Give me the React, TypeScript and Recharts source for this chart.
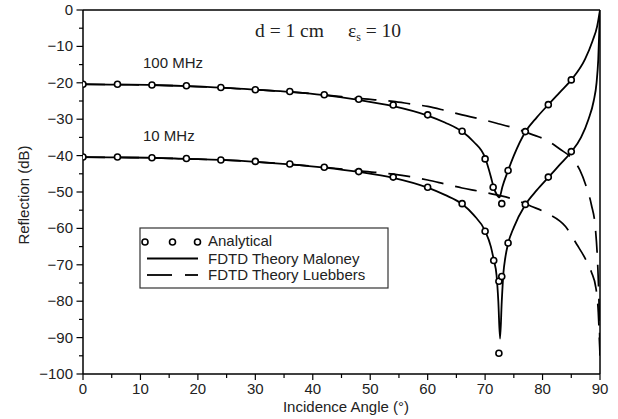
import React from 'react';
import { ComposedChart, Line, Scatter, XAxis, YAxis, ReferenceLine } from 'recharts';

// analytical points (circles)
const analyticalAngles100 = [0, 6, 12, 18, 24, 30, 36, 42, 48, 54, 60, 66, 70, 71.4, 72.9, 74, 77, 81, 85];
const analytical100 = [-20.4, -20.4, -20.6, -20.8, -21.3, -21.9, -22.4, -23.3, -24.5, -26.1, -28.8, -33.3, -40.9, -48.7, -53.2, -44.1, -33.4, -26.0, -19.2];

const analyticalAngles10 = [0, 6, 12, 18, 24, 30, 36, 42, 48, 54, 60, 66, 70, 71.5, 72.4, 72.4, 72.9, 74, 77, 81, 85];
const analytical10 = [-40.4, -40.4, -40.6, -40.8, -41.2, -41.6, -42.3, -43.2, -44.4, -45.9, -48.7, -53.2, -60.8, -68.8, -74.5, -94.3, -73.2, -64.0, -53.4, -45.9, -38.9];

// FDTD Maloney (solid)
const maloneyAngles100 = [0, 6, 12, 18, 24, 30, 36, 42, 48, 54, 60, 63, 66, 68, 70, 71, 71.5, 72, 72.5, 73, 74, 75, 77, 79, 81, 83, 85, 87.4, 88.7, 89.5, 90];
const maloney100 = [-20.4, -20.5, -20.6, -20.9, -21.3, -21.9, -22.5, -23.4, -24.7, -26.4, -29.0, -30.9, -33.4, -36.2, -40.6, -45.8, -48.8, -50.6, -51.5, -48.6, -44.1, -40.0, -33.5, -29.5, -26.0, -22.6, -19.2, -13.5, -8.5, -4.5, 0];

const maloneyAngles10 = [0, 6, 12, 18, 24, 30, 36, 42, 48, 54, 60, 63, 66, 68, 70, 71, 71.5, 72, 72.3, 72.6, 72.9, 73.2, 73.5, 74, 75, 77, 79, 81, 83, 85, 86.7, 88, 88.9, 89.4, 89.7, 90];
const maloney10 = [-40.4, -40.5, -40.6, -40.9, -41.2, -41.7, -42.4, -43.3, -44.5, -46.1, -48.8, -50.8, -53.3, -56.3, -60.7, -65.0, -68.6, -73.0, -80.0, -90.3, -80.0, -72.0, -68.2, -64.2, -59.7, -53.5, -49.5, -46.0, -42.5, -39.0, -35.0, -30.0, -25.0, -20.0, -13.5, 0];

// FDTD Luebbers (dashed)
const luebbersAngles100 = [0, 6, 12, 18, 24, 30, 36, 42, 48, 54, 57, 60, 63, 66, 69, 72, 75, 78, 81, 83, 85, 86.5, 87.5, 88.5, 89.2, 89.6, 89.85, 90];
const luebbers100 = [-20.4, -20.5, -20.6, -20.9, -21.3, -21.9, -22.5, -23.3, -24.3, -25.1, -25.8, -26.5, -27.6, -28.8, -29.9, -31.1, -32.4, -34.1, -36.0, -38.2, -40.6, -44.0, -48.0, -53.5, -60.0, -70.0, -82.0, -95.0];

const luebbersAngles10 = [0, 6, 12, 18, 24, 30, 36, 42, 48, 54, 57, 60, 63, 66, 69, 72, 75, 78, 81, 84, 86, 87.5, 88.5, 89.3, 89.7, 90];
const luebbers10 = [-40.4, -40.5, -40.6, -40.9, -41.2, -41.7, -42.4, -43.2, -44.2, -45.1, -45.8, -46.7, -47.8, -48.9, -49.8, -50.8, -52.0, -53.9, -56.0, -59.5, -64.5, -68.5, -72.0, -76.5, -83.0, -95.0];

const xTicks = [0, 5, 10, 15, 20, 25, 30, 35, 40, 45, 50, 55, 60, 65, 70, 75, 80, 85, 90];
const yTicks = [-100, -95, -90, -85, -80, -75, -70, -65, -60, -55, -50, -45, -40, -35, -30, -25, -20, -15, -10, -5, 0];

const zip = (xs: number[], ys: number[]) => xs.map((x, i) => ({ x, y: ys[i] }));

const FONT = '"Liberation Sans", Arial, sans-serif';
const TEXT = '#222';

const fmt = (v: number) => (v < 0 ? '\u2212' + Math.abs(v) : String(v));

const XTick = (props: any) => {
  const { x, y, payload } = props;
  const major = payload.value % 10 === 0;
  return (
    <g>
      <line x1={x} x2={x} y1={y} y2={y + (major ? 6 : 4)} stroke="#000" strokeWidth={1.2} />
      {major && (
        <text x={x} y={y + 19.5} textAnchor="middle" fontSize={15} fontFamily={FONT} fill={TEXT}>
          {fmt(payload.value)}
        </text>
      )}
    </g>
  );
};

const YTick = (props: any) => {
  const { x, y, payload } = props;
  const major = payload.value % 10 === 0;
  return (
    <g>
      <line x1={x - (major ? 6.5 : 4)} x2={x} y1={y} y2={y} stroke="#000" strokeWidth={1.2} />
      {major && (
        <text x={x - 10} y={y + 5} textAnchor="end" fontSize={15} fontFamily={FONT} fill={TEXT}>
          {fmt(payload.value)}
        </text>
      )}
    </g>
  );
};

const Ring = (props: any) => {
  const { cx, cy } = props;
  if (cx == null || cy == null) return null;
  return <circle cx={cx} cy={cy} r={3} fill="#fff" stroke="#000" strokeWidth={1.6} />;
};

export default function App() {
  return (
    <div style={{ position: 'absolute', left: 0, top: 0, width: 618, height: 419, background: '#fff' }}>
      <ComposedChart width={618} height={419} margin={{ top: 10, right: 18, bottom: 0, left: 0 }}>
        <XAxis
          type="number"
          dataKey="x"
          domain={[0, 90]}
          ticks={xTicks}
          interval={0}
          height={45}
          tickSize={0}
          tickMargin={0}
          tickLine={false}
          tick={<XTick />}
          axisLine={{ stroke: '#000', strokeWidth: 1.5 }}
          allowDataOverflow
        />
        <YAxis
          type="number"
          domain={[-100, 0]}
          ticks={yTicks}
          interval={0}
          width={83}
          tickSize={0}
          tickMargin={0}
          tickLine={false}
          tick={<YTick />}
          axisLine={{ stroke: '#000', strokeWidth: 1.5 }}
          allowDataOverflow
        />
        <ReferenceLine y={0} stroke="#000" strokeWidth={1.5} />
        <ReferenceLine x={90} stroke="#000" strokeWidth={1.5} />

        <Line data={zip(luebbersAngles100, luebbers100)} dataKey="y" type="monotone" stroke="#000" strokeWidth={1.7} strokeDasharray="22 12" dot={false} isAnimationActive={false} />
        <Line data={zip(luebbersAngles10, luebbers10)} dataKey="y" type="monotone" stroke="#000" strokeWidth={1.7} strokeDasharray="22 12" dot={false} isAnimationActive={false} />
        <Line data={zip(maloneyAngles100, maloney100)} dataKey="y" type="monotone" stroke="#000" strokeWidth={1.8} dot={false} isAnimationActive={false} />
        <Line data={zip(maloneyAngles10, maloney10)} dataKey="y" type="monotone" stroke="#000" strokeWidth={1.8} dot={false} isAnimationActive={false} />
        <Scatter data={zip(analyticalAngles100, analytical100)} dataKey="y" shape={<Ring />} isAnimationActive={false} />
        <Scatter data={zip(analyticalAngles10, analytical10)} dataKey="y" shape={<Ring />} isAnimationActive={false} />
      </ComposedChart>

      <svg width={618} height={419} style={{ position: 'absolute', left: 0, top: 0, pointerEvents: 'none' }}>
        <g fontFamily='"Liberation Serif", "Times New Roman", serif' fontSize={19.5} fill={TEXT}>
          <text x={255} y={36.5}>d = 1 cm</text>
          <text x={348} y={36.5}>
            ε<tspan fontSize={12} dy={4}>s</tspan>
            <tspan dy={-4}> = 10</tspan>
          </text>
        </g>
        <g fontFamily={FONT} fontSize={15} fill={TEXT}>
          <text x={143} y={68}>100 MHz</text>
          <text x={143} y={141}>10 MHz</text>
          <text x={346} y={412} textAnchor="middle">Incidence Angle (°)</text>
          <text x={29} y={195} textAnchor="middle" transform="rotate(-90 29 195)">Reflection (dB)</text>
        </g>
        <g>
          <rect x={140} y={228} width={248} height={60} fill="#fff" stroke="#333" strokeWidth={1.2} />
          <circle cx={145} cy={242} r={3} fill="#fff" stroke="#000" strokeWidth={1.6} />
          <circle cx={172.5} cy={242} r={3} fill="#fff" stroke="#000" strokeWidth={1.6} />
          <circle cx={197.5} cy={242} r={3} fill="#fff" stroke="#000" strokeWidth={1.6} />
          <line x1={147} x2={198} y1={258.5} y2={258.5} stroke="#000" strokeWidth={1.8} />
          <line x1={147} x2={172} y1={275} y2={275} stroke="#000" strokeWidth={1.8} />
          <line x1={185} x2={198} y1={275} y2={275} stroke="#000" strokeWidth={1.8} />
          <g fontFamily={FONT} fontSize={15} fill={TEXT}>
            <text x={208} y={246}>Analytical</text>
            <text x={208} y={263.5}>FDTD Theory Maloney</text>
            <text x={208} y={280}>FDTD Theory Luebbers</text>
          </g>
        </g>
      </svg>
    </div>
  );
}
